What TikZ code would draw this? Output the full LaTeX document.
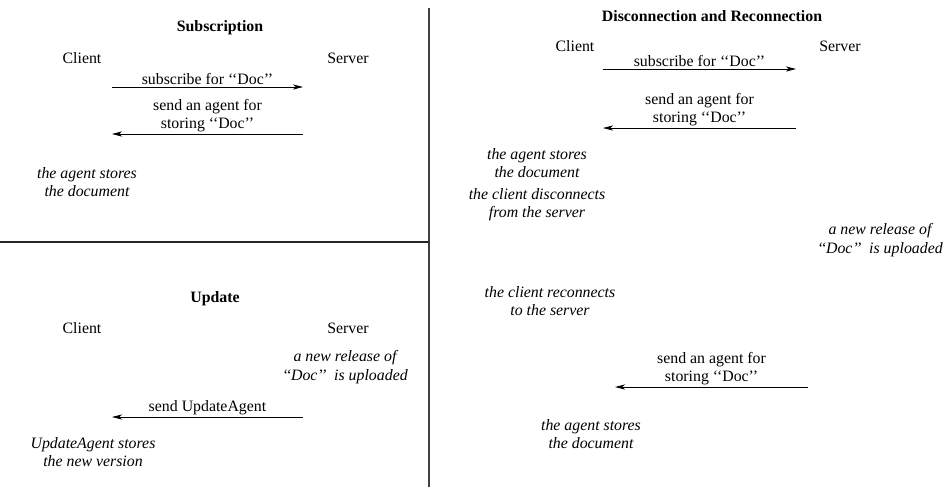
\documentclass[tikz,border=0pt]{standalone}
\usepackage{fontspec}
\setmainfont{Liberation Serif}
\usetikzlibrary{arrows.meta}
\newcommand{\doc}{{`}{`}Doc{'}{'}}

\begin{document}
\fontsize{11}{12.7}\selectfont
\begin{tikzpicture}[x=0.694pt, y=-0.694pt, >={Stealth[length=7pt,width=3.6pt,inset=2pt]},
  title/.style={font=\bfseries},
  party/.style={},
  note/.style={font=\itshape, align=center},
  msg/.style={align=center, inner sep=1pt},
  msgline/.style={->, semithick}]
  \useasboundingbox (0,0) rectangle (946,487);

  %% Dividers
  \draw[thick, black!75] (429,8) -- (429,487);
  \draw[thick, black!85] (0,242) -- (429,242);

  %% Subscription (top left)
  \node[title] (subT) at (220,28) {Subscription};
  \node[party] (subC) at (82,58) {Client};
  \node[party] (subS) at (348,58) {Server};
  \coordinate (subC1) at (112,87);  \coordinate (subS1) at (303,87);
  \coordinate (subC2) at (112,134); \coordinate (subS2) at (303,134);
  \draw[msgline] (subC1) -- (subS1)
    node[midway, above, msg] (subM1) {subscribe for \doc};
  \draw[msgline] (subS2) -- (subC2)
    node[midway, above, msg] (subM2) {send an agent for\\storing \doc};
  \node[note] (subN1) at (87,182) {the agent stores\\the document};

  %% Update (bottom left)
  \node[title] (updT) at (215,299) {Update};
  \node[party] (updC) at (82,328) {Client};
  \node[party] (updS) at (348,328) {Server};
  \node[note] (updN1) at (345,367) {a new release of\\\doc\ \ is uploaded};
  \coordinate (updC1) at (112,417); \coordinate (updS1) at (303,417);
  \draw[msgline] (updS1) -- (updC1)
    node[midway, above, msg] (updM1) {send UpdateAgent};
  \node[note] (updN2) at (93,452) {UpdateAgent stores\\the new version};

  %% Disconnection and Reconnection (right)
  \node[title] (disT) at (712,16) {Disconnection and Reconnection};
  \node[party] (disC) at (575,46) {Client};
  \node[party] (disS) at (840,46) {Server};
  \coordinate (disC1) at (603,69);  \coordinate (disS1) at (796,69);
  \coordinate (disC2) at (603,128); \coordinate (disS2) at (796,128);
  \coordinate (disC3) at (615,387); \coordinate (disS3) at (808,387);
  \draw[msgline] (disC1) -- (disS1)
    node[midway, above, msg] (disM1) {subscribe for \doc};
  \draw[msgline] (disS2) -- (disC2)
    node[midway, above, msg] (disM2) {send an agent for\\storing \doc};
  \node[note] (disN1) at (537,163) {the agent stores\\the document};
  \node[note] (disN2) at (537,205) {the client disconnects\\from the server};
  \node[note] (disN3) at (880,240) {a new release of\\\doc\ \ is uploaded};
  \node[note] (disN4) at (550,301) {the client reconnects\\to the server};
  \draw[msgline] (disS3) -- (disC3)
    node[midway, above, msg] (disM3) {send an agent for\\storing \doc};
  \node[note] (disN5) at (591,434) {the agent stores\\the document};
\end{tikzpicture}
\end{document}
